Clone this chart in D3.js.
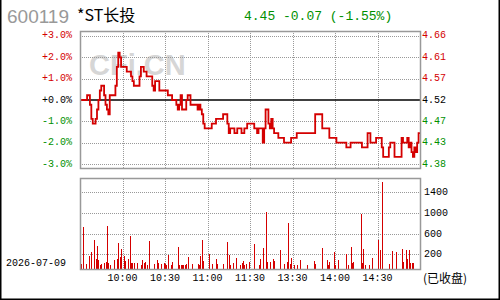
<!DOCTYPE html>
<html>
<head>
<meta charset="utf-8">
<script src="https://cdn.jsdelivr.net/npm/d3@7"></script>
<style>
  body { margin: 0; background: #fff; }
  svg { display: block; }
  text { font-family: "Liberation Mono", "DejaVu Sans Mono", monospace; }
</style>
</head>
<body>
<svg id="chart" width="500" height="300"></svg>
<script>
// stock info
const code = '600119';
const stockName = '*ST长投';
const prevClose = 4.52;
const quoteText = '4.45 -0.07 (-1.55%)';
const dateText = '2026-07-09';

// price line: minute index (0..240) where price changes, and the price
const priceMinutes = [0, 5, 7, 8, 9, 11, 12, 13, 14, 15, 17, 18, 19, 20, 21, 25, 26, 27, 28, 29,
  33, 36, 37, 38, 42, 43, 45, 47, 51, 52, 53, 56, 62, 65, 68, 69, 70, 71, 72, 75,
  76, 78, 83, 84, 85, 86, 87, 88, 93, 96, 101, 104, 105, 106, 109, 111, 114, 116, 118, 123,
  125, 126, 129, 130, 131, 133, 134, 135, 136, 137, 140, 144, 149, 153, 166, 171, 176, 181, 188, 191,
  199, 203, 205, 209, 213, 214, 218, 219, 222, 227, 228, 231, 232, 233, 234, 235, 236, 237, 238, 239, 240];
const prices = [4.52, 4.53, 4.51, 4.48, 4.47, 4.48, 4.50, 4.52, 4.54, 4.55, 4.53, 4.51, 4.50, 4.49, 4.53, 4.55, 4.59, 4.62, 4.61, 4.59,
  4.58, 4.57, 4.56, 4.55, 4.57, 4.59, 4.58, 4.57, 4.55, 4.54, 4.56, 4.54, 4.53, 4.52, 4.51, 4.50, 4.51, 4.53, 4.50, 4.52,
  4.53, 4.51, 4.50, 4.51, 4.50, 4.49, 4.47, 4.46, 4.47, 4.48, 4.49, 4.47, 4.45, 4.46, 4.45, 4.46, 4.45, 4.46, 4.47, 4.46,
  4.45, 4.46, 4.43, 4.46, 4.50, 4.47, 4.46, 4.48, 4.46, 4.45, 4.44, 4.43, 4.44, 4.45, 4.49, 4.46, 4.44, 4.43, 4.42, 4.43,
  4.42, 4.45, 4.43, 4.44, 4.42, 4.40, 4.42, 4.43, 4.40, 4.44, 4.43, 4.44, 4.42, 4.43, 4.41, 4.40, 4.42, 4.41, 4.43, 4.45, 4.45];

// volume bars
const volMinutes = [1, 2, 4, 6, 8, 10, 11, 12, 13, 14, 15, 17, 18, 19, 20, 21, 24, 26, 27, 28,
  29, 31, 32, 34, 35, 36, 37, 38, 40, 43, 44, 45, 46, 47, 49, 52, 54, 55, 57, 59,
  60, 61, 62, 64, 65, 69, 70, 71, 72, 73, 74, 75, 76, 79, 83, 84, 85, 86, 87, 91,
  93, 96, 97, 101, 104, 105, 106, 108, 110, 113, 114, 115, 116, 117, 119,
  123, 126, 127, 129, 131, 132, 134, 136, 137, 141, 144, 146, 147, 148, 149, 151, 153, 155, 160, 165,
  166, 171, 174, 175, 176, 179, 180, 182, 188, 189, 191, 192, 193, 198, 199, 200, 201, 204, 206, 210,
  212, 213, 218, 220, 223, 227, 228, 230, 231, 232, 233, 234, 235, 240];
const volumes = [97, 818, 97, 258, 335, 567, 206, 451, 180, 77, 103, 116, 142, 837, 116, 84, 180, 206, 502, 238,
  386, 258, 161, 193, 644, 116, 116, 116, 116, 84, 180, 129, 142, 84, 547, 103, 180, 116, 103, 116,
  103, 77, 277, 77, 142, 431, 84, 84, 84, 84, 84, 103, 238, 103, 103, 84, 258, 567, 161, 296,
  103, 200, 103, 103, 528, 277, 84, 116, 219, 84, 116, 161, 84, 103, 142,
  483, 84, 193, 412, 1108, 142, 142, 193, 161, 374, 103, 142, 902, 103, 219, 84, 84, 180, 84, 161,
  103, 412, 180, 84, 142, 335, 90, 180, 296, 84, 431, 129, 142, 1063, 122, 393, 84, 84, 219, 567,
  374, 1687, 103, 354, 335, 393, 142, 374, 200, 374, 116, 116, 116, 180];

// axes
const pctTicks = [3, 2, 1, 0, -1, -2, -3];
const timeTicks = [30, 60, 90, 120, 150, 180, 210];
const timeLabels = ['10:00', '10:30', '11:00', '11:30', '13:30', '14:00', '14:30'];
const volGrid = [290, 680, 1085, 1490];
const volLabels = ['200', '600', '1000', '1400'];

const red = '#d40000', green = '#009000';
const snap = v => Math.round(v) + 0.5;

const svg = d3.select('#chart');

// frame
svg.append('path')
  .attr('d', 'M0.75,0 V299.25 H499.25 V0')
  .attr('fill', 'none')
  .attr('stroke', '#000')
  .attr('stroke-width', 1.5);

// scales
const x = d3.scaleLinear().domain([0, 240]).range([80, 420]);
const y = d3.scaleLinear().domain([-3, 3]).range([164.3, 35.7]);
const yVol = d3.scaleLinear().domain([0, 1750]).range([269.3, 178.7]);
const pct = p => (p - prevClose) / prevClose * 100;

// header
svg.append('text')
  .attr('x', 7).attr('y', 23)
  .style('font-family', '"Liberation Sans", Arial, sans-serif')
  .style('font-size', '19px')
  .attr('fill', '#999')
  .text(code);
svg.append('text')
  .attr('x', 77).attr('y', 21)
  .style('font-family', '"Noto Sans CJK SC", sans-serif')
  .style('font-size', '16px')
  .attr('fill', '#000')
  .text(stockName);
svg.append('text')
  .attr('x', 244).attr('y', 20)
  .style('font-size', '13px')
  .attr('fill', green)
  .text(quoteText);

// watermark
svg.append('text')
  .attr('x', 89).attr('y', 75)
  .style('font-family', '"Liberation Sans", Arial, sans-serif')
  .style('font-size', '29px')
  .style('font-weight', 'bold')
  .attr('fill', '#d6d6d6')
  .text('CFi.CN');

// price panel grid
const priceG = svg.append('g');
priceG.selectAll('.hgrid')
  .data(pctTicks.filter(d => d !== 0))
  .enter().append('line')
  .attr('x1', 80).attr('x2', 420)
  .attr('y1', d => snap(y(d))).attr('y2', d => snap(y(d)))
  .attr('stroke', '#999').attr('stroke-dasharray', '1,1');
priceG.selectAll('.vgrid')
  .data(timeTicks)
  .enter().append('line')
  .attr('x1', d => snap(x(d))).attr('x2', d => snap(x(d)))
  .attr('y1', 31).attr('y2', 168)
  .attr('stroke', '#999').attr('stroke-dasharray', '1,1');

// zero line
priceG.append('line')
  .attr('x1', 80).attr('x2', 420)
  .attr('y1', y(0)).attr('y2', y(0))
  .attr('stroke', '#000').attr('stroke-width', 1.6);

// price line
const pts = priceMinutes.map((m, i) => [m, prices[i]]);
priceG.append('path')
  .datum(pts)
  .attr('fill', 'none')
  .attr('stroke', red)
  .attr('stroke-width', 1.8)
  .attr('d', d3.line().x(d => x(d[0])).y(d => y(pct(d[1]))).curve(d3.curveStepAfter));

// price panel border
priceG.append('rect')
  .attr('x', 80.5).attr('y', 31.5).attr('width', 340).attr('height', 137)
  .attr('fill', 'none').attr('stroke', '#999').attr('stroke-width', 1.5);

// left labels (percent)
const pctColor = d => d > 0 ? red : d < 0 ? green : '#000';
svg.selectAll('.pctLabel')
  .data(pctTicks)
  .enter().append('text')
  .attr('x', 72).attr('y', d => y(d))
  .attr('text-anchor', 'end')
  .attr('dominant-baseline', 'central')
  .style('font-size', '10px')
  .attr('fill', pctColor)
  .text(d => (d >= 0 ? '+' : '-') + Math.abs(d).toFixed(1) + '%');

// right labels (price)
svg.selectAll('.priceLabel')
  .data(pctTicks)
  .enter().append('text')
  .attr('x', 422).attr('y', d => y(d))
  .attr('dominant-baseline', 'central')
  .style('font-size', '10px')
  .attr('fill', pctColor)
  .text(d => (prevClose * (1 + d / 100)).toFixed(2));

// volume panel
const volG = svg.append('g');
volG.selectAll('.vhgrid')
  .data(volGrid)
  .enter().append('line')
  .attr('x1', 80).attr('x2', 420)
  .attr('y1', d => snap(yVol(d))).attr('y2', d => snap(yVol(d)))
  .attr('stroke', '#999').attr('stroke-dasharray', '1,1');
volG.selectAll('.vvgrid')
  .data(timeTicks)
  .enter().append('line')
  .attr('x1', d => snap(x(d))).attr('x2', d => snap(x(d)))
  .attr('y1', 179).attr('y2', 269)
  .attr('stroke', '#999').attr('stroke-dasharray', '1,1');

volG.selectAll('.bar')
  .data(volMinutes.map((m, i) => [m, volumes[i]]))
  .enter().append('rect')
  .attr('x', d => Math.round(x(d[0])))
  .attr('width', 1)
  .attr('y', d => yVol(d[1]))
  .attr('height', d => yVol(0) - yVol(d[1]))
  .attr('fill', red)
  .attr('shape-rendering', 'crispEdges');

volG.append('rect')
  .attr('x', 80.5).attr('y', 178.5).attr('width', 340).attr('height', 91)
  .attr('fill', 'none').attr('stroke', '#999').attr('stroke-width', 1.5);

svg.selectAll('.volLabel')
  .data(volGrid)
  .enter().append('text')
  .attr('x', 424).attr('y', d => yVol(d))
  .attr('dominant-baseline', 'central')
  .style('font-size', '10px')
  .attr('fill', '#000')
  .text((d, i) => volLabels[i]);

// time labels
svg.selectAll('.timeLabel')
  .data(timeTicks)
  .enter().append('text')
  .attr('x', d => x(d)).attr('y', 281)
  .attr('text-anchor', 'middle')
  .style('font-size', '10px')
  .attr('fill', '#000')
  .text((d, i) => timeLabels[i]);

svg.append('text')
  .attr('x', 6).attr('y', 266)
  .style('font-size', '10px')
  .attr('fill', '#000')
  .text(dateText);

svg.append('text')
  .attr('x', 423).attr('y', 283)
  .style('font-family', '"Noto Sans CJK SC", sans-serif')
  .style('font-size', '12px')
  .attr('fill', '#000')
  .text('(已收盘)');
</script>
</body>
</html>
